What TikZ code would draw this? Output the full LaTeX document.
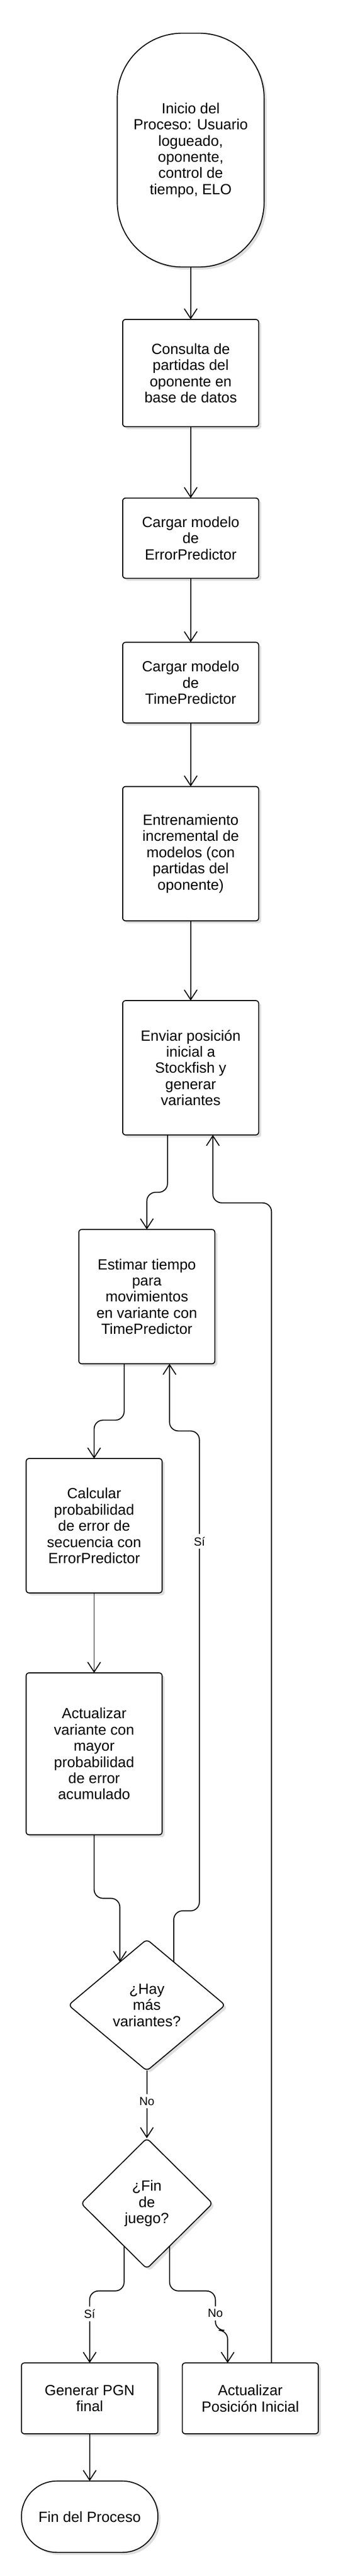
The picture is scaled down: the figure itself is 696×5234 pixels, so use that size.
\documentclass[tikz,border=0pt]{standalone}
\usepackage{fontspec}
\setmainfont{Liberation Sans}
\usetikzlibrary{calc,shapes.geometric,arrows.meta,shadows}

\begin{document}
\begin{tikzpicture}[x=0.5bp, y=-0.5bp,
    every node/.style={font=\fontsize{15}{16.5}\selectfont, align=center, outer sep=0pt, inner sep=0pt},
    shade/.style={drop shadow={shadow xshift=2.5bp, shadow yshift=-2.5bp, fill=black!13, opacity=1}},
    proc/.style={draw, line width=1bp, fill=white, rounded corners=3bp, minimum width=138bp, shade},
    term/.style={proc, rounded corners=36bp},
    decision/.style={diamond, draw, line width=1bp, fill=white, rounded corners=4bp, shade},
    flow/.style={draw, line width=1bp, rounded corners=9bp, -{Straight Barb[length=10bp, width=13bp]}},
    lbl/.style={fill=white, font=\fontsize{12}{13}\selectfont, inner sep=3bp}]
    % \draw[help lines, step=100] (0,0) grid (696,5234);
    \useasboundingbox (0,0) rectangle (696,5234);

    % main column
    \node[term, minimum width=149bp, minimum height=237.5bp, rounded corners=66bp] (inicio) at (387,305) {Inicio del\\Proceso: Usuario\\logueado,\\oponente,\\control de\\tiempo, ELO};
    \node[proc, minimum height=109bp] (consulta) at (387,758) {Consulta de\\partidas del\\oponente en\\base de datos};
    \node[proc, minimum height=81.5bp] (errorp) at (387,1093.5) {Cargar modelo\\de\\ErrorPredictor};
    \node[proc, minimum height=82bp] (timep) at (387,1387) {Cargar modelo\\de\\TimePredictor};
    \node[proc, minimum height=136.5bp] (entren) at (387,1734.5) {Entrenamiento\\incremental de\\modelos (con\\partidas del\\oponente)};
    \node[proc, minimum height=136.5bp] (enviar) at (387,2169.5) {Enviar posición\\inicial a\\Stockfish y\\generar\\variantes};

    % loop over variants
    \node[proc, minimum height=136.5bp] (estimar) at (298,2634.5) {Estimar tiempo\\para\\movimientos\\en variante con\\TimePredictor};
    \node[proc, minimum height=136.5bp] (calcular) at (191,3100) {Calcular\\probabilidad\\de error de\\secuencia con\\ErrorPredictor};
    \node[proc, minimum height=164.5bp] (actvar) at (191,3563.5) {Actualizar\\variante con\\mayor\\probabilidad\\de error\\acumulado};
    \node[decision, minimum width=159bp, minimum height=133.5bp] (hay) at (298,4074) {¿Hay\\más\\variantes?};
    \node[decision, minimum width=133.5bp, minimum height=132.5bp] (fin) at (298,4477) {¿Fin\\de\\juego?};

    % end of game
    \node[proc, minimum width=138.5bp, minimum height=72bp] (pgn) at (182,4873) {Generar PGN\\final};
    \node[proc, minimum height=72bp] (actpos) at (508,4873) {Actualizar\\Posición Inicial};
    \node[term, minimum width=138.5bp, minimum height=72.5bp] (finproc) at (182,5113.5) {Fin del Proceso};

    % straight edges
    \foreach \a/\b in {inicio/consulta, consulta/errorp, errorp/timep, timep/entren, entren/enviar, calcular/actvar, pgn/finproc} {
        \path[flow] (\a) edge (\b);
    }

    % bent edges
    \draw[flow] ([xshift=-23.5bp]enviar.south) -- ++(0,116.5) -| (estimar.north);
    \draw[flow] ([xshift=-23bp]estimar.south) -- ++(0,114.5) -| (calcular.north);
    \draw[flow] (actvar.south) -- ++(0,129) -| (hay.122);
    \draw[flow] (hay.58) -- ++(0,-104) -- ++(52,0) -- node[lbl, pos=0.77] {Sí} ++(0,-975) -| ([xshift=23bp]estimar.south);
    \draw[flow] (hay.south) -- node[lbl, pos=0.45] {No} (fin.north);
    \draw[flow] (fin.242) -- ++(0,91) -- ++(-70,0) -- node[lbl, pos=0.32] {Sí} (pgn.north);
    \draw[flow] (fin.298) -- ++(0,91) -- ++(93,0) -- node[lbl, pos=0.57] {No} ++(0,80) -| ([xshift=-23bp]actpos.north);

    % back to Stockfish
    \draw[flow] ([xshift=21.5bp]actpos.north) -- ++(0,-2357) -| ([xshift=22.5bp]enviar.south);
\end{tikzpicture}
\end{document}
